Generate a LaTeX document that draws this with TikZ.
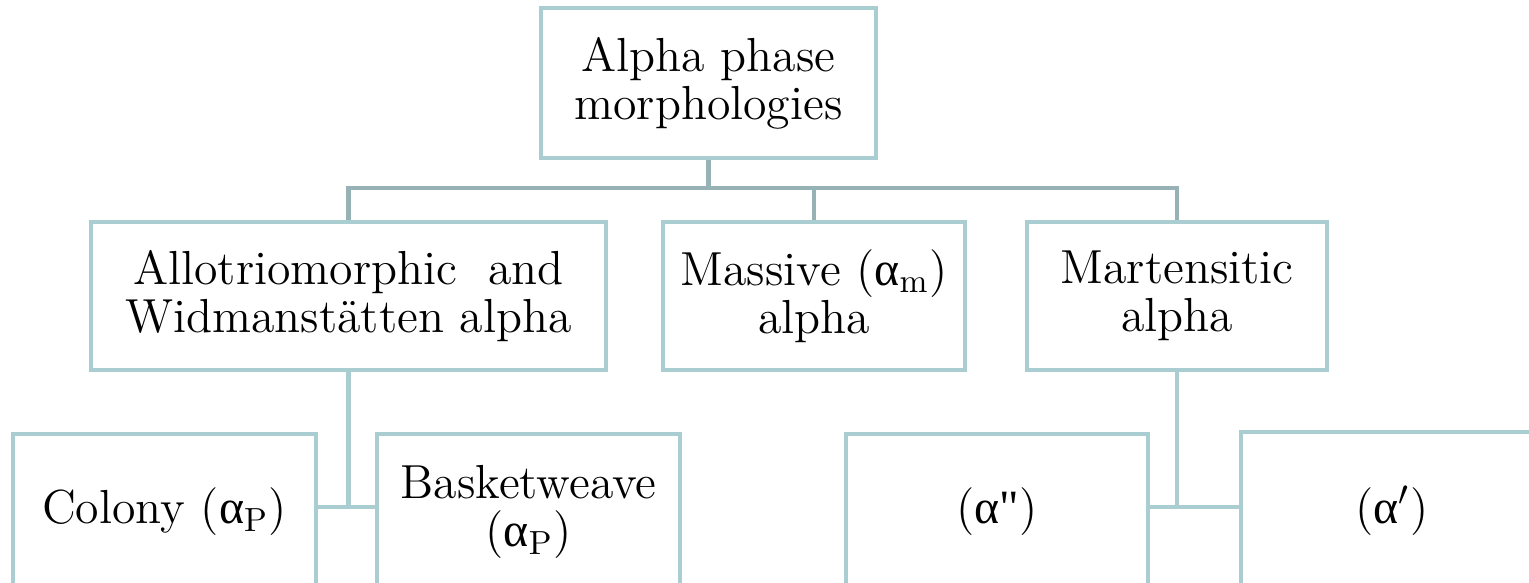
\documentclass[tikz,border=0pt]{standalone}
\usepackage{fontspec}
\newfontfamily\grk{Liberation Serif}
\newcommand{\alf}{{\grk α}}
\definecolor{rim}{HTML}{A9CDD0}
\definecolor{bus}{HTML}{96B2B4}
\tikzset{box/.style={draw=rim,line width=1.2pt,fill=white,align=center,font=\fontsize{13.6}{13.6}\selectfont,minimum height=14.8mm,inner sep=2pt}, link/.style={draw=bus,line width=1.4pt}, leaf/.style={draw=rim,line width=1.2pt}}

\begin{document}
\begin{tikzpicture}[x=1cm,y=1cm]
\useasboundingbox (0,0) rectangle (15.29,5.83);
\clip (0,0) rectangle (15.29,5.83);
\node[box,minimum width=33.5mm,minimum height=15mm] (top) at (7.085,5.00){Alpha phase\\morphologies};
\node[box,minimum width=51.5mm] (ally) at (3.485,2.87){Allotriomorphic \ and\\Widmanst\"atten alpha};
\node[box,minimum width=30.2mm] (mas) at (8.14,2.87){Massive (\alf\textsubscript{m})\\alpha};
\node[box,minimum width=30mm] (mar) at (11.77,2.87){Martensitic\\alpha};
\node[box,minimum width=30.3mm,minimum height=15.6mm] (col) at (1.645,0.71){Colony (\alf\textsubscript{P})};
\node[box,minimum width=30.3mm,minimum height=15.6mm] (bas) at (5.285,0.71){Basketweave\\(\alf\textsubscript{P})};
\node[box,minimum width=30.2mm,minimum height=15.6mm] (dbl) at (9.97,0.71){(\alf{\grk\char34})};
\node[box,minimum width=30.2mm,minimum height=15.8mm] (pri) at (13.92,0.72){(\alf$'$)};
% bus under the top box
\coordinate (hub) at (7.085,3.95);
\draw[link] (top.south) -- (hub);
\draw[link] (ally.north) |- (hub) -| (mar.north);
\draw[link] (mas.north) -- (mas.north |- hub);
% lower joins
\coordinate (jl) at (3.485,0.76);
\coordinate (jr) at (11.77,0.76);
\draw[leaf] (ally.south) -- (jl);
\draw[leaf] (col.east |- jl) -- (bas.west |- jl);
\draw[leaf] (mar.south) -- (jr);
\draw[leaf] (dbl.east |- jr) -- (pri.west |- jr);
\end{tikzpicture}
\end{document}
